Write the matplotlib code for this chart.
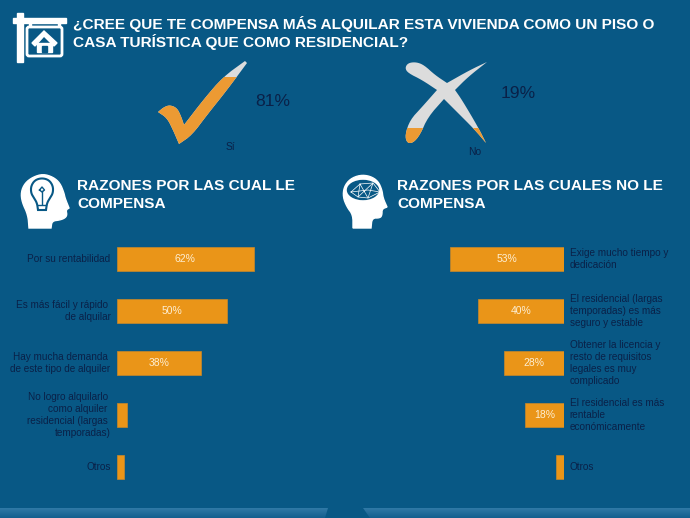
import numpy as np
from matplotlib import pyplot as plt
from matplotlib.colors import LinearSegmentedColormap
from matplotlib.patches import Polygon, Rectangle, FancyBboxPatch, Ellipse

plt.rcParams['font.family'] = ['Liberation Sans', 'DejaVu Sans']

BG = '#085885'
ORANGE = '#ea9518'
PIC_ORANGE = '#ec9a33'
GREY = '#dcdcdc'
DARK = '#0a2148'
WHITE = '#ffffff'

title_lines = ['¿CREE QUE TE COMPENSA MÁS ALQUILAR ESTA VIVIENDA COMO UN PISO O', 'CASA TURÍSTICA QUE COMO RESIDENCIAL?']
left_heading = ['RAZONES POR LAS CUAL LE', 'COMPENSA']
right_heading = ['RAZONES POR LAS CUALES NO LE', 'COMPENSA']

yes_pct = 81
no_pct = 19

left_labels = ['Por su rentabilidad', 'Es más fácil y rápido \nde alquilar', 'Hay mucha demanda \nde este tipo de alquiler',
               'No logro alquilarlo \ncomo alquiler \nresidencial (largas \ntemporadas)', 'Otros']
left_values = [62, 50, 38, 4.5, 3.5]
left_shown = ['62%', '50%', '38%', '', '']

right_labels = ['Exige mucho tiempo y\ndedicación', 'El residencial (largas\ntemporadas) es más\nseguro y estable',
                'Obtener la licencia y\nresto de requisitos\nlegales es muy\ncomplicado',
                'El residencial es más\nrentable\neconómicamente', 'Otros']
right_values = [53, 40, 28, 18, 3.5]
right_shown = ['53%', '40%', '28%', '18%', '']

# icon outlines, in pixels of the picture; doubled points stay sharp when smoothed
check_shape = [(158, 112), (158, 112), (164, 107), (170, 105), (177, 108), (181, 116), (184, 125), (184, 125), (204, 99),
               (223, 77), (245, 61), (245, 61), (247, 63), (247, 63), (227, 90), (207, 115), (192, 135), (179, 144),
               (179, 144), (173, 130), (167, 118)]
x_shape = [(405, 68), (408, 63), (416, 62), (424, 65), (435, 75), (447, 83), (447, 83), (470, 70), (487, 62), (487, 62),
           (468, 77), (455, 90), (455, 90), (462, 100), (478, 127), (486, 143), (486, 143), (475, 130), (455, 110),
           (444, 99), (444, 99), (428, 117), (420, 135), (413, 143), (407, 143), (405, 135), (410, 120), (422, 107),
           (437, 90), (437, 90), (422, 80), (408, 73)]
head1_shape = [(29, 228), (29, 228), (28, 215), (22, 202), (21, 192), (25, 183), (33, 177), (43, 174), (53, 177), (60, 183),
               (64, 193), (65, 198), (69, 208), (69, 208), (66, 210), (67, 215), (65, 218), (60, 220), (52, 221), (51, 228),
               (51, 228)]
head2_shape = [(353, 228), (353, 228), (353, 215), (347, 207), (343, 197), (344, 187), (350, 179), (360, 175), (370, 176),
               (378, 181), (382, 190), (383, 198), (387, 207), (387, 207), (382, 209), (382, 215), (380, 218), (372, 218),
               (371, 228), (371, 228)]
bulb_shape = [(38, 210), (38, 210), (37, 203), (34, 198), (31, 193), (31, 186), (35, 180), (42, 178), (49, 180), (53, 186),
              (53, 193), (50, 198), (47, 203), (46, 210), (46, 210)]
brain_lines = [[(351, 192), (360, 184), (373, 183), (380, 192), (368, 198), (358, 197), (351, 192)],
               [(360, 184), (358, 197), (373, 183), (368, 198), (360, 184)], [(351, 192), (368, 190), (380, 192)]]
roof_shape = [(32, 43), (44, 31), (57, 43), (54, 46), (44, 36), (35, 46)]


def smooth(shape, rounds=2):
    # corner cutting, only to take the edges off the hand traced icons
    pts = np.array(shape, dtype=float)
    for _ in range(rounds):
        nxt = np.roll(pts, -1, axis=0)
        pts = np.column_stack([0.75 * pts + 0.25 * nxt, 0.25 * pts + 0.75 * nxt]).reshape(-1, 2)
    return pts


def bar_axes(fig, x0, x1, values, shown, labels, flip):
    W, H = fig.get_size_inches() * fig.dpi
    ax = fig.add_axes([x0 / W, 1 - 493 / H, (x1 - x0) / W, 260 / H], facecolor='none')
    ypos = np.arange(len(values))
    ax.barh(ypos, values, height=0.48, color=ORANGE, edgecolor='#c9882a', linewidth=0.5)
    for y, v, s in zip(ypos, values, shown):
        ax.text(v / 2, y, s, color='#fdeed2', fontsize=7.5, ha='center', va='center')
    ax.set_ylim(4.5, -0.5)
    ax.set_yticks(ypos)
    ax.set_xticks([])
    if flip:
        ax.set_xlim((x1 - x0) / 2.14, 0)
        ax.yaxis.tick_right()
        ax.set_yticklabels(labels, ha='left', va='center', linespacing=1.28)
    else:
        ax.set_xlim(0, (x1 - x0) / 2.215)
        ax.set_yticklabels(labels, ha='right', va='center', linespacing=1.28)
    ax.tick_params(axis='y', length=0, pad=4.5, labelsize=7.2, labelcolor=DARK)
    for s in ax.spines.values():
        s.set_visible(False)
    return ax


def pictogram(ax, shape, pct):
    pts = np.array(shape)
    top, bottom = pts[:, 1].min(), pts[:, 1].max()
    level = bottom - (bottom - top) * pct / 100
    outline = smooth(shape)
    ax.add_patch(Polygon(outline, closed=True, facecolor=GREY, edgecolor='none'))
    part = Polygon(outline, closed=True, facecolor=PIC_ORANGE, edgecolor='none')
    ax.add_patch(part)
    clip = Rectangle((pts[:, 0].min(), level), np.ptp(pts[:, 0]), bottom - level, transform=ax.transData)
    part.set_clip_path(clip)


def sign_icon(ax):
    ax.add_patch(Rectangle((17, 13), 6, 49, color=WHITE))
    ax.add_patch(Rectangle((13, 18), 53, 4.5, color=WHITE))
    ax.add_patch(Rectangle((29, 22), 1.5, 5, color=WHITE))
    ax.add_patch(Rectangle((58, 22), 1.5, 5, color=WHITE))
    ax.add_patch(FancyBboxPatch((27, 27), 35, 29, boxstyle='round,pad=0,rounding_size=2', fc=BG, ec=WHITE, lw=2))
    ax.add_patch(Polygon(roof_shape, closed=True, color=WHITE))
    ax.add_patch(Rectangle((37, 43), 15, 9, color=WHITE))
    ax.add_patch(Rectangle((42, 46), 5, 6, color=BG))


def bulb_icon(ax):
    ax.add_patch(Polygon(smooth(bulb_shape), closed=True, fc=WHITE, ec=BG, lw=1.5))
    ax.plot([42, 42], [191, 204], color=BG, lw=1)
    ax.plot([39.5, 42, 44.5, 42, 39.5], [190, 187, 190, 192, 190], color=BG, lw=1)
    ax.plot([38, 46], [205, 205], color=BG, lw=1)


def brain_icon(ax):
    ax.add_patch(Ellipse((363, 190), 31, 19, color=BG))
    for line in brain_lines:
        xs, ys = zip(*line)
        ax.plot(xs, ys, color=WHITE, lw=0.5)


def two_lines(ax, x, baselines, lines):
    for y, line in zip(baselines, lines):
        ax.text(x, y, line, color=WHITE, fontsize=11.05, fontweight='bold', ha='left', va='baseline')


def main():
    fig = plt.figure(figsize=(6.9, 5.18), dpi=100, facecolor=BG)

    bg = fig.add_axes([0, 0, 1, 1])

    # bottom band, lighter at its top edge
    band = LinearSegmentedColormap.from_list('band', ['#3079a6', '#145f8e'])
    shade = np.linspace(0, 1, 32).reshape(-1, 1)
    for corners in ([(0, 508), (328, 508), (325, 518), (0, 518)], [(363, 508), (690, 508), (690, 518), (370, 518)]):
        im = bg.imshow(shade, extent=(0, 690, 518, 508), origin='upper', aspect='auto', cmap=band, zorder=1)
        im.set_clip_path(Polygon(corners, closed=True, transform=bg.transData))
    bg.set_xlim(0, 690)
    bg.set_ylim(518, 0)
    bg.axis('off')

    sign_icon(bg)
    bg.add_patch(Polygon(smooth(head1_shape), closed=True, color=WHITE))
    bulb_icon(bg)
    bg.add_patch(Polygon(smooth(head2_shape), closed=True, color=WHITE))
    brain_icon(bg)

    pictogram(bg, check_shape, yes_pct)
    pictogram(bg, x_shape, no_pct)

    two_lines(bg, 73, [29, 47], title_lines)
    two_lines(bg, 77, [190, 208], left_heading)
    two_lines(bg, 397, [190, 208], right_heading)
    bg.text(273, 101, f'{yes_pct}%', color=DARK, fontsize=12.6, ha='center', va='center')
    bg.text(518, 93, f'{no_pct}%', color=DARK, fontsize=12.6, ha='center', va='center')
    bg.text(230, 147, 'Sí', color=DARK, fontsize=7.4, ha='center', va='center')
    bg.text(475, 152, 'No', color=DARK, fontsize=7.4, ha='center', va='center')

    bar_axes(fig, 116.7, 300, left_values, left_shown, left_labels, False)
    bar_axes(fig, 420, 563.5, right_values, right_shown, right_labels, True)

    fig.savefig('out.png', dpi=100, facecolor=BG)


if __name__ == '__main__':
    main()
